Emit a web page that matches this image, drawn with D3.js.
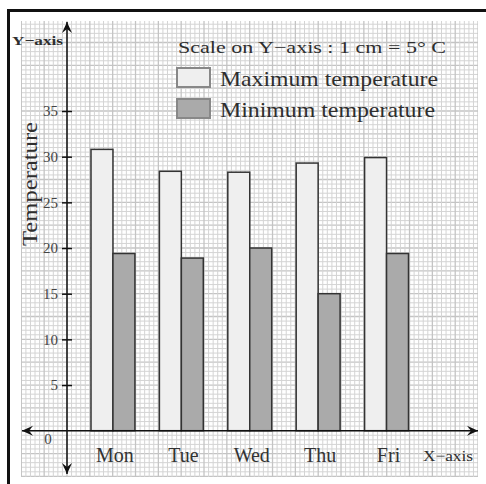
<!DOCTYPE html>
<html>
<head>
<meta charset="utf-8">
<script src="https://cdn.jsdelivr.net/npm/d3@7"></script>
<style>
 body{margin:0;background:#fff}
 svg{display:block}
 text{font-family:"Liberation Serif","DejaVu Serif",serif}
</style>
</head>
<body>
<div id="chartDiv"></div>
<script>
//---data---
var Days=["Mon","Tue","Wed","Thu","Fri"]
var MaxTemp=[30.8,28.4,28.3,29.3,29.9]
var MinTemp=[19.4,18.9,20.0,15.0,19.4]
var YTicks=[5,10,15,20,25,30,35]
var SeriesNames=["Maximum temperature","Minimum temperature"]
var SeriesKeys=["max","min"]
var SeriesFill=["#efefef","#aaaaaa"]

var Width=486
var Height=484
var AxisX=67
var TextColor="#2e2e2e"

var ChartSVG=d3.select("#chartDiv").append("svg")
 .attr("width",Width).attr("height",Height)

var y=d3.scaleLinear().domain([0,35]).range([430.7,111])
var cm=y(0)-y(1) //---px per unit---
var gx=d3.scaleLinear().domain([0,1]).range([AxisX,AxisX+cm])

var x=d3.scaleBand().domain(Days).range([91,408.5]).paddingInner(0.358).paddingOuter(0)
var xSub=d3.scaleBand().domain(SeriesKeys).range([0,x.bandwidth()])

//---arrow head---
ChartSVG.append("defs").append("marker")
 .attr("id","arrowHead")
 .attr("viewBox","-11 -6 12 12")
 .attr("refX","0").attr("refY","0")
 .attr("markerUnits","userSpaceOnUse")
 .attr("markerWidth","12").attr("markerHeight","12")
 .attr("orient","auto")
 .append("path")
 .attr("d","M0,0 L-11,-5 L-7,0 L-11,5 Z")
 .attr("fill","#111")

ChartSVG.select("defs").append("clipPath").attr("id","gridClip")
 .append("rect").attr("x",21).attr("y",21).attr("width",457).attr("height",456)

//---graph paper---
var GridG=ChartSVG.append("g").attr("clip-path","url(#gridClip)")
GridG.append("rect").attr("x",21).attr("y",21).attr("width",457).attr("height",456).attr("fill","#fff")
var hLines=d3.range(-12,100).map(function(i){return i/2})
var vLines=d3.range(-12,100).map(function(i){return i/2})
function gridCol(d){return (Math.round(d*2)%5==0)?"#c4c4c4":"#d4d4d4"}
function gridW(d){return (Math.round(d*2)%5==0)?1.3:1}
GridG.selectAll(".h").data(hLines).join("line")
 .attr("x1",21).attr("x2",478)
 .attr("y1",function(d){return y(d)}).attr("y2",function(d){return y(d)})
 .attr("stroke",gridCol).attr("stroke-width",gridW)
GridG.selectAll(".v").data(vLines).join("line")
 .attr("y1",21).attr("y2",477)
 .attr("x1",function(d){return gx(d)}).attr("x2",function(d){return gx(d)})
 .attr("stroke",gridCol).attr("stroke-width",gridW)

//---frame---
ChartSVG.append("rect").attr("x",8.5).attr("y",10.5).attr("width",600).attr("height",600)
 .attr("fill","none").attr("stroke","#111").attr("stroke-width",3)

//---bars---
var BarG=ChartSVG.append("g")
var rows=Days.map(function(d,i){return {day:d,max:MaxTemp[i],min:MinTemp[i]}})
BarG.selectAll("g").data(rows).join("g")
 .attr("transform",function(d){return "translate("+x(d.day)+",0)"})
 .selectAll("rect").data(function(d){return SeriesKeys.map(function(k,j){return {key:k,v:d[k],j:j}})})
 .join("rect")
 .attr("x",function(d){return xSub(d.key)})
 .attr("width",xSub.bandwidth())
 .attr("y",function(d){return y(d.v)})
 .attr("height",function(d){return y(0)-y(d.v)})
 .attr("fill",function(d){return SeriesFill[d.j]})
 .attr("stroke","#333").attr("stroke-width",1.5)

//---axes lines---
ChartSVG.append("line").attr("x1",AxisX).attr("x2",AxisX).attr("y1",y(0)).attr("y2",22)
 .attr("stroke","#111").attr("stroke-width",1.5).attr("marker-end","url(#arrowHead)")
ChartSVG.append("line").attr("x1",AxisX).attr("x2",AxisX).attr("y1",y(0)).attr("y2",474)
 .attr("stroke","#111").attr("stroke-width",1.5).attr("marker-end","url(#arrowHead)")
ChartSVG.append("line").attr("x1",AxisX).attr("x2",478).attr("y1",y(0)).attr("y2",y(0))
 .attr("stroke","#111").attr("stroke-width",1.5).attr("marker-end","url(#arrowHead)")
ChartSVG.append("line").attr("x1",AxisX).attr("x2",22).attr("y1",y(0)).attr("y2",y(0))
 .attr("stroke","#111").attr("stroke-width",1.5).attr("marker-end","url(#arrowHead)")

//---y ticks---
var yAxis=d3.axisLeft(y).tickValues(YTicks).tickSize(5).tickPadding(4)
var yAxisG=ChartSVG.append("g").attr("transform","translate("+AxisX+",0)").call(yAxis)
yAxisG.select(".domain").remove()
yAxisG.selectAll(".tick line").attr("x1",5).attr("x2",-5).attr("stroke","#111").attr("stroke-width",1.5)
yAxisG.selectAll(".tick text").style("font-size","15px").style("fill","#444")
ChartSVG.append("text").attr("x",48).attr("y",444).attr("text-anchor","middle")
 .style("font-size","15px").style("fill","#444").text("0")

//---day labels---
var xAxis=d3.axisBottom(x).tickSize(0).tickPadding(0)
var xAxisG=ChartSVG.append("g").attr("transform","translate(2,"+y(0)+")").call(xAxis)
xAxisG.select(".domain").remove()
xAxisG.selectAll(".tick text").style("font-size","20px").style("fill","#333")
 .attr("dy",null).attr("y",31)

//---axis names---
ChartSVG.append("text").attr("x",12).attr("y",45).style("font-size","13px").attr("font-weight","bold")
 .attr("textLength",51).attr("lengthAdjust","spacingAndGlyphs").style("fill",TextColor).text("Y\u2212axis")
ChartSVG.append("text").attr("x",423).attr("y",461).style("font-size","15px")
 .attr("textLength",50).attr("lengthAdjust","spacingAndGlyphs").style("fill",TextColor).text("X\u2212axis")
ChartSVG.append("text").attr("transform","translate(37,184) rotate(-90)").attr("text-anchor","middle")
 .style("font-size","21px").attr("textLength",124).attr("lengthAdjust","spacingAndGlyphs")
 .style("fill",TextColor).text("Temperature")

//---legend---
var LegendG=ChartSVG.append("g")
LegendG.append("text").attr("x",178).attr("y",53).style("font-size","17px")
 .attr("textLength",268).attr("lengthAdjust","spacingAndGlyphs").style("fill",TextColor)
 .text("Scale on Y\u2212axis : 1 cm = 5\u00b0 C")
var legendRows=LegendG.selectAll(".lg").data(SeriesNames).join("g")
 .attr("transform",function(d,i){return "translate(0,"+(i*31)+")"})
legendRows.append("rect").attr("x",177).attr("y",68).attr("width",33).attr("height",19)
 .attr("fill",function(d,i){return SeriesFill[i]}).attr("stroke","#888").attr("stroke-width",2)
legendRows.append("text").attr("x",220).attr("y",86).style("font-size","21px")
 .attr("textLength",function(d,i){return i==0?218:215}).attr("lengthAdjust","spacingAndGlyphs")
 .style("fill",TextColor).text(function(d){return d})
</script>
</body>
</html>
